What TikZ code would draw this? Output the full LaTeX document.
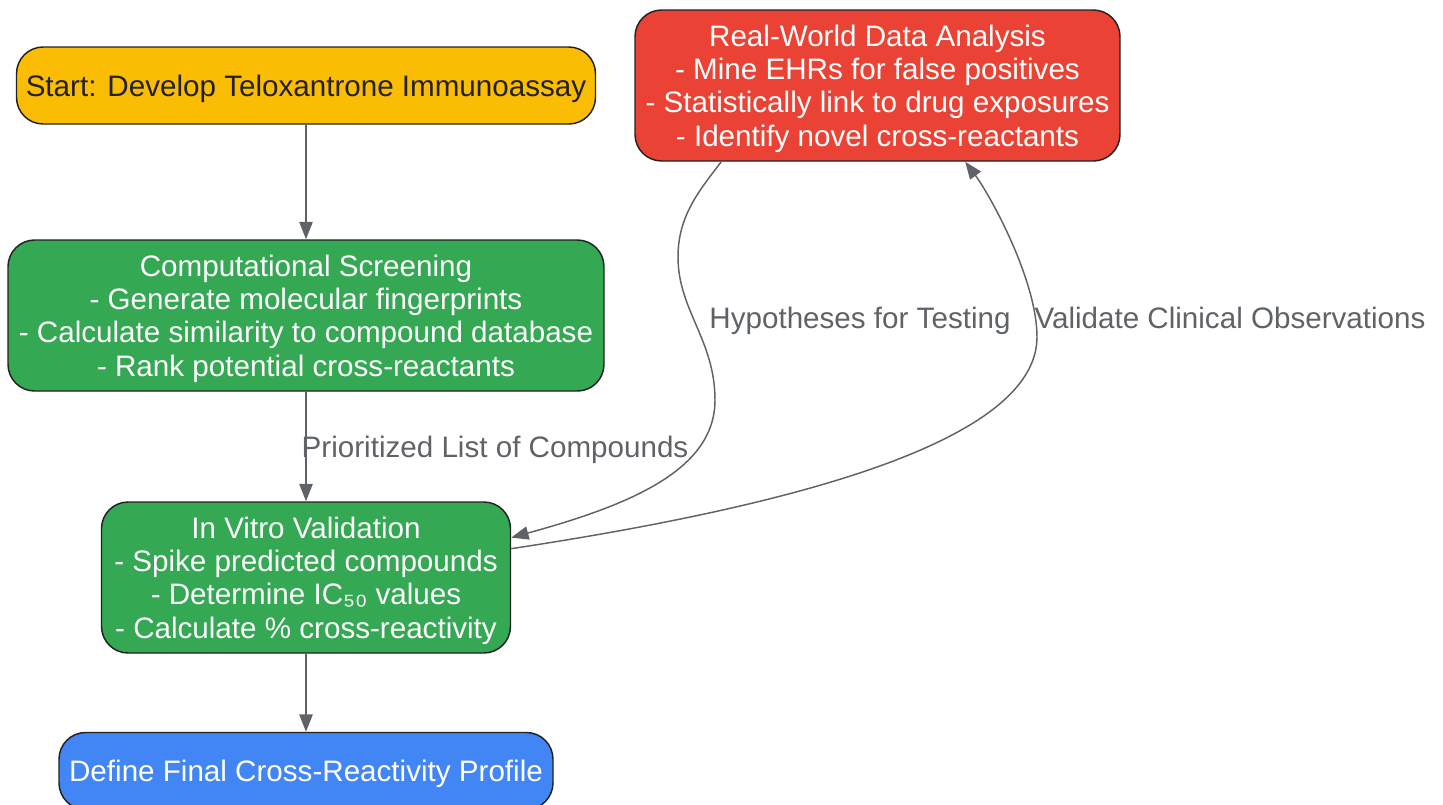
\documentclass[tikz,border=0pt]{standalone}
\usepackage{fontspec}
\setmainfont{Liberation Sans}
\usetikzlibrary{arrows.meta}
\definecolor{startyellow}{HTML}{FBBC04}
\definecolor{screengreen}{HTML}{34A853}
\definecolor{realred}{HTML}{EA4335}
\definecolor{finalblue}{HTML}{4285F4}
\definecolor{edgegray}{HTML}{5F6368}
\definecolor{boxline}{HTML}{222222}

\begin{document}
\begin{tikzpicture}[x=0.75pt, y=-0.75pt,
    box/.style={draw=boxline, line width=1.1pt, rounded corners=20pt, align=center,
        inner sep=0pt, text depth=0pt, text=white, font=\fontsize{22.2}{25}\selectfont},
    flow/.style={draw=edgegray, line width=1.1pt, -{Triangle[length=13pt,width=10pt]}},
    elabel/.style={text=edgegray, inner sep=0pt, text depth=0pt, font=\fontsize{22.2}{25}\selectfont}
    ]

\useasboundingbox (0,0) rectangle (1443,804);

% nodes
{
\node[box, fill=startyellow, text=boxline, minimum width=434.25pt, minimum height=57.75pt] (st) at (306,85.5)
    {Start: Develop Teloxantrone Immunoassay};

\node[box, fill=screengreen, minimum width=447pt, minimum height=113.25pt] (cs) at (306,315.5)
    {Computational Screening\\- Generate molecular fingerprints\\- Calculate similarity to compound database\\- Rank potential cross-reactants};

\node[box, fill=screengreen, minimum width=306.75pt, minimum height=113.25pt] (iv) at (306,577.5)
    {In Vitro Validation\\- Spike predicted compounds\\- Determine IC₅₀ values\\- Calculate \% cross-reactivity};

\node[box, fill=finalblue, minimum width=370.5pt, minimum height=57.75pt] (fin) at (306,771)
    {Define Final Cross-Reactivity Profile};

\node[box, fill=realred, minimum width=363.75pt, minimum height=113.25pt] (rw) at (877.5,85.5)
    {Real-World Data Analysis\\- Mine EHRs for false positives\\- Statistically link to drug exposures\\- Identify novel cross-reactants};
}

%arrows
{
\draw[flow] (st) -- (cs);

\draw[flow] (cs) -- node[elabel, anchor=west, xshift=-3.75pt] {Prioritized List of Compounds} (iv);

\draw[flow] (iv) -- (fin);

\draw[flow] (rw.-154) .. controls (700,190) and (678,215) .. (678,257)
    .. controls (678,310) and (715,340) .. (715,400)
    .. controls (715,470) and (630,505) .. (iv.11);

\draw[flow] (iv.8) .. controls (800,505) and (1037,440) .. (1037,337)
    .. controls (1037,280) and (990,195) .. (rw.-41);
}

% edge labels
{
\node[elabel] (hyp) at (860,318) {Hypotheses for Testing};
\node[elabel] (val) at (1230,318) {Validate Clinical Observations};
}

\end{tikzpicture}
\end{document}
